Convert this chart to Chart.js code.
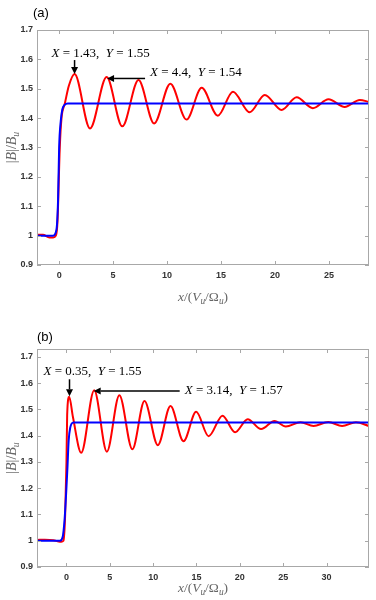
<!DOCTYPE html>
<html>
<head>
<meta charset="utf-8">
<script src="https://cdn.jsdelivr.net/npm/chart.js@4.4.1/dist/chart.umd.min.js"></script>
<style>
  html, body { margin: 0; padding: 0; background: #fff; }
  canvas { position: absolute; left: 0; }
</style>
</head>
<body>
<canvas id="first" width="376" height="310" style="top:0"></canvas>
<canvas id="second" width="376" height="300" style="top:300px"></canvas>
<script>
// panel (a)
const redAX = [-2.05, -1.5, -0.9, -0.55, -0.3, -0.15, 0.06, 0.22, 0.53, 0.9, 1.43, 2.86, 4.4, 5.85, 7.35, 8.8, 10.3, 11.8, 13.2, 14.7, 16.1, 17.65, 19.05, 20.6, 22.0, 23.5, 24.95, 26.45, 27.85, 28.7];
const redAY = [1.003, 1.003, 0.994, 0.994, 1.0, 1.05, 1.3, 1.4, 1.45, 1.51, 1.55, 1.365, 1.54, 1.372, 1.53, 1.382, 1.517, 1.395, 1.503, 1.408, 1.49, 1.42, 1.479, 1.428, 1.471, 1.434, 1.464, 1.438, 1.462, 1.455];
const blueAX = [-2.05, -1.0, -0.55, -0.25, -0.1, 0, 0.15, 0.3, 0.5, 0.8, 28.7];
const blueAY = [1.0, 1.0, 1.0, 1.02, 1.12, 1.3, 1.39, 1.43, 1.445, 1.45, 1.45];
const xTicksA = [0, 5, 10, 15, 20, 25];

// panel (b)
const redBX = [-3.4, -2.5, -1.5, -0.9, -0.6, -0.35, -0.15, 0, 0.08, 0.31, 0.75, 1.7, 3.2, 4.66, 6.1, 7.6, 9.0, 10.54, 12.0, 13.5, 14.96, 16.4, 18.0, 19.45, 20.9, 22.45, 24.0, 25.3, 27.0, 28.5, 30.2, 31.8, 33.4, 34.9];
const redBY = [1.003, 1.004, 1.002, 0.997, 0.996, 1.0, 1.1, 1.3, 1.48, 1.548, 1.47, 1.335, 1.573, 1.339, 1.554, 1.348, 1.532, 1.364, 1.513, 1.379, 1.491, 1.398, 1.476, 1.413, 1.463, 1.425, 1.456, 1.435, 1.451, 1.437, 1.452, 1.437, 1.451, 1.437];
const blueBX = [-3.4, -1.5, -0.75, -0.45, -0.22, 0.1, 0.25, 0.43, 0.8, 34.9];
const blueBY = [1.0, 1.0, 1.0, 1.013, 1.08, 1.27, 1.38, 1.43, 1.45, 1.45];
const xTicksB = [0, 5, 10, 15, 20, 25, 30];

const yTicks = [0.9, 1.0, 1.1, 1.2, 1.3, 1.4, 1.5, 1.6, 1.7];

const serif = '"Liberation Serif", "Times New Roman", serif';

function pts(xs, ys) {
    return xs.map((x, i) => ({ x: x, y: ys[i] }));
}

// draws a bit of LaTeX-like text: [text, style] with style n / i / si (sub italic)
function mathText(ctx, parts, x, y, size, align) {
    const fontOf = (s) => (s.indexOf('i') >= 0 ? 'italic ' : '') + (s[0] === 's' ? size * 0.7 : size) + 'px ' + serif;
    let w = 0;
    parts.forEach(p => { ctx.font = fontOf(p[1]); w += ctx.measureText(p[0]).width; });
    let cx = align === 'center' ? x - w / 2 : x;
    parts.forEach(p => {
        ctx.font = fontOf(p[1]);
        ctx.fillText(p[0], cx, p[1][0] === 's' ? y + size * 0.3 : y);
        cx += ctx.measureText(p[0]).width;
    });
}

function arrow(ctx, x1, y1, x2, y2) {
    const ang = Math.atan2(y2 - y1, x2 - x1);
    const hl = 7, hw = 3.5;
    ctx.beginPath();
    ctx.moveTo(x1, y1);
    ctx.lineTo(x2 - hl * Math.cos(ang), y2 - hl * Math.sin(ang));
    ctx.stroke();
    ctx.beginPath();
    ctx.moveTo(x2, y2);
    ctx.lineTo(x2 - hl * Math.cos(ang) + hw * Math.sin(ang), y2 - hl * Math.sin(ang) - hw * Math.cos(ang));
    ctx.lineTo(x2 - hl * Math.cos(ang) - hw * Math.sin(ang), y2 - hl * Math.sin(ang) + hw * Math.cos(ang));
    ctx.closePath();
    ctx.fill();
}

const frame = {
    id: 'frame',
    afterDatasetsDraw(chart) {
        const ctx = chart.ctx, a = chart.chartArea;
        const xs = chart.scales.x, ys = chart.scales.y;
        ctx.save();
        ctx.strokeStyle = '#a8a8a8';
        ctx.lineWidth = 1;
        ctx.strokeRect(a.left + 0.5, a.top + 0.5, a.right - a.left - 1, a.bottom - a.top - 1);
        ctx.beginPath();
        xs.ticks.forEach(t => {
            const px = Math.round(xs.getPixelForValue(t.value)) + 0.5;
            ctx.moveTo(px, a.bottom); ctx.lineTo(px, a.bottom - 4);
            ctx.moveTo(px, a.top); ctx.lineTo(px, a.top + 4);
        });
        ys.ticks.forEach(t => {
            const py = Math.round(ys.getPixelForValue(t.value)) + 0.5;
            ctx.moveTo(a.left, py); ctx.lineTo(a.left + 4, py);
            ctx.moveTo(a.right, py); ctx.lineTo(a.right - 4, py);
        });
        ctx.stroke();
        ctx.restore();
    },
    afterDraw(chart) {
        const o = chart.options.plugins.frame;
        const ctx = chart.ctx, a = chart.chartArea;
        const xs = chart.scales.x, ys = chart.scales.y;
        ctx.save();
        ctx.textBaseline = 'middle';
        // panel label
        ctx.fillStyle = '#000';
        ctx.font = '13px "Liberation Sans", Arial, sans-serif';
        ctx.fillText(o.label, o.labelX, o.labelY);
        // axis titles
        ctx.fillStyle = '#666';
        mathText(ctx, [['x', 'i'], ['/(', 'n'], ['V', 'i'], ['u', 'si'], ['/Ω', 'n'], ['u', 'si'], [')', 'n']],
            (a.left + a.right) / 2, o.titleY, 13.5, 'center');
        ctx.save();
        ctx.translate(12, (a.top + a.bottom) / 2);
        ctx.rotate(-Math.PI / 2);
        mathText(ctx, [['|', 'n'], ['B', 'i'], ['|/', 'n'], ['B', 'i'], ['u', 'si']], 0, 0, 14, 'center');
        ctx.restore();
        // annotations
        ctx.fillStyle = '#000';
        ctx.strokeStyle = '#000';
        ctx.lineWidth = 1.5;
        o.notes.forEach(n => {
            const tx = xs.getPixelForValue(n.x), ty = ys.getPixelForValue(n.y);
            arrow(ctx, tx + n.tail[0], ty + n.tail[1], tx, ty);
            mathText(ctx, [['X', 'i'], [' = ' + n.xs + ',  ', 'n'], ['Y', 'i'], [' = ' + n.ys, 'n']],
                tx + n.text[0], ty + n.text[1], 13, 'left');
        });
        ctx.restore();
    }
};

function makeChart(id, red, blue, xMin, xMax, yMax, xTicks, top, bottom, xHeight, extra) {
    return new Chart(document.getElementById(id), {
        type: 'line',
        data: {
            datasets: [
                {
                    data: blue,
                    borderColor: '#0000ff',
                    borderWidth: 2,
                    pointRadius: 0,
                    cubicInterpolationMode: 'monotone',
                    order: 0
                },
                {
                    data: red,
                    borderColor: '#ff0000',
                    borderWidth: 2,
                    pointRadius: 0,
                    cubicInterpolationMode: 'monotone',
                    order: 1
                },
            ]
        },
        options: {
            responsive: false,
            animation: false,
            layout: { padding: { left: 0, right: 7, top: top, bottom: bottom } },
            scales: {
                x: {
                    type: 'linear',
                    min: xMin,
                    max: xMax,
                    grid: { display: false, drawTicks: false },
                    border: { display: false },
                    afterBuildTicks: s => { s.ticks = xTicks.map(v => ({ value: v })); },
                    afterFit: s => { s.height = xHeight; },
                    ticks: {
                        padding: 5,
                        maxRotation: 0,
                        autoSkip: false,
                        color: '#333',
                        font: { family: '"Liberation Sans", Arial, sans-serif', size: 9, weight: 'bold' }
                    }
                },
                y: {
                    min: 0.9,
                    max: yMax,
                    grid: { display: false, drawTicks: false },
                    border: { display: false },
                    afterBuildTicks: s => { s.ticks = yTicks.map(v => ({ value: v })); },
                    afterFit: s => { s.width = 37; },
                    ticks: {
                        padding: 4,
                        color: '#333',
                        font: { family: '"Liberation Sans", Arial, sans-serif', size: 9, weight: 'bold' },
                        callback: v => String(Number(v.toFixed(1)))
                    }
                }
            },
            plugins: {
                legend: { display: false },
                tooltip: { enabled: false },
                frame: extra
            }
        },
        plugins: [frame]
    });
}

const chartA = makeChart('first', pts(redAX, redAY), pts(blueAX, blueAY), -2.05, 28.7, 1.7, xTicksA, 30, 10, 35, {
    label: '(a)', labelX: 33, labelY: 13, titleY: 297,
    notes: [
        { x: 1.43, y: 1.55, xs: '1.43', ys: '1.55', tail: [0, -14], text: [-23, -20] },
        { x: 4.44, y: 1.535, xs: '4.4', ys: '1.54', tail: [38, 0], text: [43, -6] }
    ]
});

const chartB = makeChart('second', pts(redBX, redBY), pts(blueBX, blueBY), -3.4, 34.9, 1.73, xTicksB, 49, 0, 33, {
    label: '(b)', labelX: 37, labelY: 37.5, titleY: 288,
    notes: [
        { x: 0.35, y: 1.55, xs: '0.35', ys: '1.55', tail: [0, -17], text: [-26, -25] },
        { x: 3.14, y: 1.57, xs: '3.14', ys: '1.57', tail: [86, 0], text: [91, 0] }
    ]
});
</script>
</body>
</html>
